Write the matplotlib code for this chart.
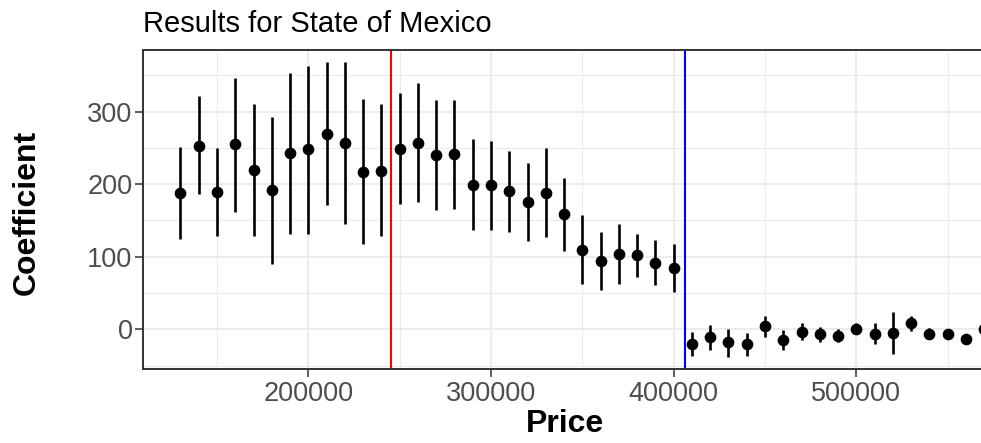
import matplotlib
matplotlib.use("Agg")
import matplotlib.pyplot as plt
import numpy as np

plt.rcParams["font.family"] = ["Liberation Sans", "DejaVu Sans"]

# price bins and estimated coefficients with their confidence bounds
price = np.arange(130000, 570001, 10000)
coef = [188, 253, 189, 255, 219, 192, 243, 248, 269, 257, 217, 218,
        249, 257, 240, 241, 199, 199, 190, 175, 188, 159, 109, 94,
        104, 102, 92, 84, -20, -11, -18, -20, 5, -15, -4, -7,
        -9, 1, -6, -5, 8, -6, -6, -13, 1]
upper = [251, 321, 250, 347, 310, 293, 353, 363, 368, 368, 317, 310,
         326, 339, 316, 316, 262, 259, 246, 229, 250, 209, 157, 134,
         145, 131, 123, 117, -4, 6, 0, -5, 18, -1, 8, 3,
         0, 9, 8, 24, 18, 2, -3, -10, 5]
lower = [125, 186, 128, 162, 128, 90, 132, 131, 171, 145, 118, 128,
         172, 175, 164, 166, 137, 137, 134, 122, 127, 108, 62, 54,
         63, 72, 61, 52, -37, -28, -38, -37, -11, -29, -15, -17,
         -18, -7, -20, -34, -2, -13, -9, -16, -3]
red_cut = 245000
blue_cut = 406000

W, H = 981, 443
fig = plt.figure(figsize=(W / 100, H / 100), dpi=100)
ax = fig.add_axes([143 / W, (H - 369) / H, (986 - 143) / W, (369 - 50) / H])

ax.set_xlim(109500, 571000)
ax.set_ylim(-54.8, 385)

ax.set_xticks([200000, 300000, 400000, 500000])
ax.set_xticks(np.arange(150000, 600000, 100000), minor=True)
ax.set_yticks([0, 100, 200, 300])
ax.set_yticks([-50, 50, 150, 250, 350], minor=True)
ax.grid(which="major", color="#EBEBEB", lw=1.3)
ax.grid(which="minor", color="#EBEBEB", lw=0.7)
ax.set_axisbelow(True)

ax.axvline(red_cut, color="red", lw=1.5, zorder=2)
ax.axvline(blue_cut, color="blue", lw=1.5, zorder=2)

ax.vlines(price, lower, upper, colors="black", lw=1.9, zorder=3)
ax.plot(price, coef, "o", color="black", ms=7.4, zorder=4)

for s in ax.spines.values():
    s.set_color("#333333")
    s.set_linewidth(1.4)

ax.tick_params(which="major", direction="out", length=5.5, width=1.1,
               color="#333333", labelcolor="#4D4D4D", labelsize=19.5)
ax.tick_params(axis="x", pad=3)
ax.tick_params(axis="y", pad=2)
ax.tick_params(which="minor", length=0)

fig.text(143 / W, 1 - 32 / H, "Results for State of Mexico", fontsize=21,
         ha="left", va="baseline", color="black")
fig.text(564.5 / W, 1 - 432 / H, "Price", fontsize=23, fontweight="bold",
         ha="center", va="baseline")
fig.text(27 / W, 1 - 212 / H, "Coefficient", fontsize=23, fontweight="bold",
         rotation=90, ha="center", va="center")

fig.savefig("out.png", dpi=100)
